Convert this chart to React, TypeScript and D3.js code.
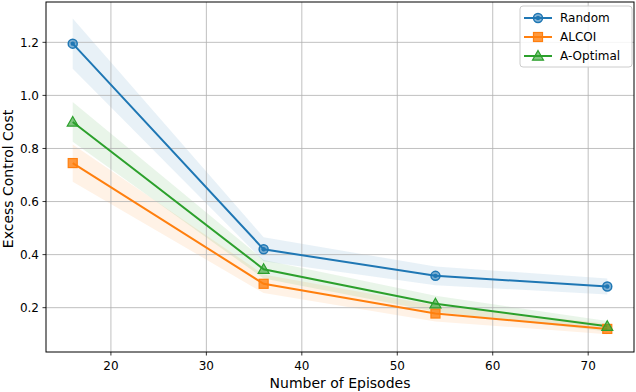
import * as d3 from 'd3';

const episodes = [16, 36, 54, 72];
const randomVals = [1.195, 0.42, 0.32, 0.28];
const randomErr = [0.095, 0.045, 0.035, 0.03];
const alcoiVals = [0.745, 0.29, 0.178, 0.12];
const alcoiErr = [0.07, 0.035, 0.03, 0.02];
const aoptVals = [0.9, 0.345, 0.215, 0.13];
const aoptErr = [0.075, 0.035, 0.03, 0.02];
const seriesNames = ['Random', 'ALCOI', 'A-Optimal'];
const xTicks = [20, 30, 40, 50, 60, 70];
const yTicks = [0.2, 0.4, 0.6, 0.8, 1.0, 1.2];

const W = 636;
const H = 392;
const margin = { top: 2, right: 2, bottom: 40, left: 46 };
const font = 'DejaVu Sans, sans-serif';

const series = [
  { name: seriesNames[0], vals: randomVals, err: randomErr, color: '#1f77b4', marker: 'circle' },
  { name: seriesNames[1], vals: alcoiVals, err: alcoiErr, color: '#ff7f0e', marker: 'square' },
  { name: seriesNames[2], vals: aoptVals, err: aoptErr, color: '#2ca02c', marker: 'triangle' },
];

const Marker = ({ kind, x, y, color }: { kind: string; x: number; y: number; color: string }) => {
  if (kind === 'circle') {
    return (
      <g>
        <circle cx={x} cy={y} r={4.5} fill={color} fillOpacity={0.55} stroke={color} strokeWidth={1.5} />
        <circle cx={x} cy={y} r={2.2} fill={color} />
      </g>
    );
  }
  if (kind === 'square') {
    return <rect x={x - 4.5} y={y - 4.5} width={9} height={9} fill={color} fillOpacity={0.8} stroke={color} strokeWidth={1.2} />;
  }
  const s = 5.5;
  return (
    <path
      d={`M${x},${y - s}L${x + s},${y + s * 0.75}L${x - s},${y + s * 0.75}Z`}
      fill={color}
      fillOpacity={0.6}
      stroke={color}
      strokeWidth={1.2}
    />
  );
};

export default function App() {
  const iw = W - margin.left - margin.right;
  const ih = H - margin.top - margin.bottom;

  const x = d3.scaleLinear().domain([13.2, 74.8]).range([0, iw]);
  const y = d3.scaleLinear().domain([0.033, 1.352]).range([ih, 0]);

  const line = d3
    .line<number>()
    .x((_, i) => x(episodes[i]))
    .y((d) => y(d));

  const band = (vals: number[], err: number[]) =>
    d3
      .area<number>()
      .x((_, i) => x(episodes[i]))
      .y0((d, i) => y(d - err[i]))
      .y1((d, i) => y(d + err[i]))(vals) || '';

  return (
    <svg width={W} height={H} style={{ position: 'absolute', left: 0, top: 0 }}>
      <rect width={W} height={H} fill="#fff" />
      <g transform={`translate(${margin.left},${margin.top})`}>
        {/* bands */}
        {series.map((s) => (
          <path key={s.name + 'band'} d={band(s.vals, s.err)} fill={s.color} fillOpacity={0.1} />
        ))}
        {/* grid */}
        {xTicks.map((t) => (
          <line key={'gx' + t} x1={x(t)} x2={x(t)} y1={0} y2={ih} stroke="#b0b0b0" strokeWidth={0.8} />
        ))}
        {yTicks.map((t) => (
          <line key={'gy' + t} x1={0} x2={iw} y1={y(t)} y2={y(t)} stroke="#b0b0b0" strokeWidth={0.8} />
        ))}
        {/* lines */}
        {series.map((s) => (
          <path key={s.name + 'line'} d={line(s.vals) || ''} fill="none" stroke={s.color} strokeWidth={2} />
        ))}
        {series.map((s) =>
          s.vals.map((v, i) => (
            <Marker key={s.name + i} kind={s.marker} x={x(episodes[i])} y={y(v)} color={s.color} />
          ))
        )}
        {/* spines */}
        <rect x={0} y={0} width={iw} height={ih} fill="none" stroke="#000" strokeWidth={1} />
        {/* x ticks */}
        {xTicks.map((t) => (
          <g key={'xt' + t} transform={`translate(${x(t)},${ih})`}>
            <line y2={3.5} stroke="#000" strokeWidth={0.8} />
            <text y={18} textAnchor="middle" fontFamily={font} fontSize={12} fill="#000">
              {t}
            </text>
          </g>
        ))}
        {yTicks.map((t) => (
          <g key={'yt' + t} transform={`translate(0,${y(t)})`}>
            <line x2={-3.5} stroke="#000" strokeWidth={0.8} />
            <text x={-7} dy="0.35em" textAnchor="end" fontFamily={font} fontSize={12} fill="#000">
              {t.toFixed(1)}
            </text>
          </g>
        ))}
        <text x={iw / 2} y={ih + 36} textAnchor="middle" fontFamily={font} fontSize={14} fill="#000">
          Number of Episodes
        </text>
        <text
          transform={`translate(${-33},${ih / 2 + 2}) rotate(-90)`}
          textAnchor="middle"
          fontFamily={font}
          fontSize={14}
          fill="#000"
        >
          Excess Control Cost
        </text>
      </g>
      {/* legend */}
      <g transform="translate(520,6)">
        <rect x={0} y={0} width={112} height={61} rx={3} fill="#fff" fillOpacity={0.85} stroke="#cccccc" strokeWidth={1} />
        {series.map((s, i) => (
          <g key={'lg' + s.name} transform={`translate(0,${12 + i * 19})`}>
            <line x1={4} x2={32} stroke={s.color} strokeWidth={2} />
            <Marker kind={s.marker} x={18} y={0} color={s.color} />
            <text x={40} dy="0.35em" fontFamily={font} fontSize={12} fill="#000">
              {s.name}
            </text>
          </g>
        ))}
      </g>
    </svg>
  );
}
